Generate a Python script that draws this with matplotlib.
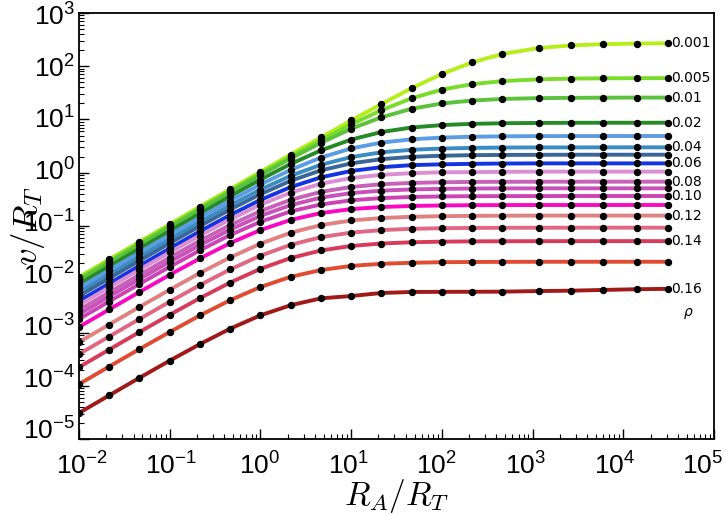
import numpy as np
import matplotlib
matplotlib.use("Agg")
import matplotlib.pyplot as plt
from matplotlib.ticker import FixedLocator, LogLocator, NullFormatter, FuncFormatter
from matplotlib.transforms import ScaledTranslation

# R_A / R_T at the dots
ratio = [0.01, 0.0215, 0.0464, 0.1, 0.215, 0.464, 1.0, 2.15, 4.64, 10,
         21.5, 46.4, 100, 215, 464, 1170, 2650, 6000, 14200, 31000]

# v / R_T for every rho
v_0p001 = [0.0110, 0.0236, 0.0505, 0.108, 0.231, 0.492, 1.04, 2.20, 4.60, 9.60,
           19.4, 38.7, 71.6, 118, 170, 220, 246, 260, 267, 270]
v_0p005 = [0.0104, 0.0223, 0.0478, 0.102, 0.218, 0.463, 0.97, 2.01, 4.10, 8.10,
           14.9, 25.0, 36.4, 46.1, 52.6, 56.8, 58.6, 59.4, 59.7, 59.9]
v_0p01 = [0.0096, 0.0206, 0.0443, 0.0950, 0.203, 0.432, 0.905, 1.85, 3.64, 6.70,
          11.0, 15.9, 20.0, 22.7, 24.3, 25.2, 25.5, 25.7, 25.8, 25.8]
v_0p02 = [0.00812, 0.0175, 0.0376, 0.0806, 0.171, 0.362, 0.744, 1.46, 2.63, 4.20,
          5.81, 7.07, 7.86, 8.29, 8.50, 8.62, 8.67, 8.69, 8.69, 8.70]
v_0p03 = [0.00685, 0.0147, 0.0316, 0.0677, 0.143, 0.299, 0.602, 1.13, 1.93, 2.86,
          3.68, 4.25, 4.57, 4.74, 4.83, 4.87, 4.89, 4.89, 4.90, 4.90]
v_0p04 = [0.00575, 0.0123, 0.0265, 0.0565, 0.119, 0.245, 0.483, 0.876, 1.41, 1.97,
          2.42, 2.70, 2.85, 2.93, 2.97, 2.99, 2.99, 3.00, 3.00, 3.00]
v_0p05 = [0.00483, 0.0104, 0.0223, 0.0474, 0.0994, 0.204, 0.396, 0.705, 1.11, 1.50,
          1.80, 1.99, 2.09, 2.14, 2.16, 2.17, 2.18, 2.18, 2.18, 2.18]
v_0p06 = [0.00389, 0.00833, 0.0179, 0.0380, 0.0793, 0.161, 0.309, 0.538, 0.820, 1.08,
          1.27, 1.39, 1.44, 1.47, 1.49, 1.50, 1.50, 1.50, 1.50, 1.50]
v_0p07 = [0.00328, 0.00703, 0.0151, 0.0319, 0.0663, 0.133, 0.251, 0.423, 0.622, 0.796,
          0.914, 0.983, 1.02, 1.03, 1.04, 1.05, 1.05, 1.05, 1.05, 1.05]
v_0p08 = [0.00265, 0.00566, 0.0121, 0.0256, 0.0527, 0.104, 0.191, 0.310, 0.438, 0.541,
          0.608, 0.644, 0.663, 0.672, 0.676, 0.679, 0.679, 0.680, 0.680, 0.680]
v_0p09 = [0.00221, 0.00472, 0.0101, 0.0213, 0.0436, 0.0856, 0.155, 0.246, 0.341, 0.415,
          0.461, 0.486, 0.499, 0.505, 0.508, 0.509, 0.510, 0.510, 0.510, 0.510]
v_0p10 = [0.00179, 0.00382, 0.00814, 0.0171, 0.0349, 0.0678, 0.120, 0.188, 0.254, 0.304,
          0.334, 0.351, 0.359, 0.363, 0.364, 0.365, 0.366, 0.366, 0.366, 0.366]
v_0p11 = [0.00127, 0.00271, 0.00576, 0.0121, 0.0246, 0.0477, 0.0841, 0.130, 0.175, 0.208,
          0.227, 0.238, 0.243, 0.246, 0.247, 0.248, 0.248, 0.248, 0.248, 0.248]
v_0p12 = [0.00066, 0.00141, 0.00302, 0.00636, 0.0131, 0.0257, 0.0466, 0.0747, 0.104, 0.127,
          0.141, 0.149, 0.153, 0.155, 0.156, 0.157, 0.157, 0.157, 0.157, 0.157]
v_0p13 = [0.000392, 0.00084, 0.00179, 0.00378, 0.00777, 0.0153, 0.0277, 0.0443, 0.0617, 0.0752,
          0.0838, 0.0885, 0.0909, 0.0920, 0.0925, 0.0928, 0.0929, 0.0930, 0.0930, 0.0930]
v_0p14 = [0.000223, 0.000478, 0.00102, 0.00215, 0.00441, 0.00867, 0.0157, 0.0250, 0.0347, 0.0422,
          0.0469, 0.0495, 0.0508, 0.0514, 0.0517, 0.0519, 0.0520, 0.0520, 0.0520, 0.0520]
v_0p15 = [0.000107, 0.000229, 0.000488, 0.00102, 0.00209, 0.00404, 0.00715, 0.0111, 0.0149, 0.0178,
          0.0195, 0.0204, 0.0209, 0.0211, 0.0212, 0.0213, 0.0213, 0.0213, 0.0213, 0.0213]
v_0p16 = [3.08e-5, 6.59e-5, 0.000141, 0.000296, 0.000604, 0.00118, 0.0021, 0.00325, 0.00438, 0.00484,
          0.00552, 0.00577, 0.00580, 0.00582, 0.00585, 0.0060, 0.0061, 0.0063, 0.0065, 0.0066]

curves = [v_0p001, v_0p005, v_0p01, v_0p02, v_0p03, v_0p04, v_0p05, v_0p06, v_0p07,
          v_0p08, v_0p09, v_0p10, v_0p11, v_0p12, v_0p13, v_0p14, v_0p15, v_0p16]
labels = ["0.001", "0.005", "0.01", "0.02", "", "0.04", "", "0.06", "",
          "0.08", "", "0.10", "", "0.12", "", "0.14", "", "0.16"]
colors = ["#b6ee1c", "#7adc2a", "#5cc23c", "#268a26", "#5c9ce4", "#3a8cc2", "#3a6698",
          "#1434e4", "#dc8ed2", "#c862b8", "#c852ba", "#cc44b4", "#fa08c2", "#e08282",
          "#e06882", "#d63c5a", "#e04c32", "#a01a18"]

x_decades = [1e-2, 1e-1, 1e0, 1e1, 1e2, 1e3, 1e4, 1e5]
y_decades = [1e-5, 1e-4, 1e-3, 1e-2, 1e-1, 1e0, 1e1, 1e2, 1e3]

fig = plt.figure(figsize=(7.26, 5.14), dpi=100)
ax = fig.add_axes([79 / 726, 75 / 514, 635 / 726, 426 / 514])

for vals, col, lab in zip(curves, colors, labels):
    ax.plot(ratio, vals, color=col, lw=2.8, solid_capstyle="butt", zorder=2)
    ax.plot(ratio, vals, "o", color="black", ms=4.3, zorder=3)
    if lab:
        ax.annotate(lab, (ratio[-1], vals[-1]), xytext=(2.5, 0), textcoords="offset points",
                    ha="left", va="center", fontsize=10, annotation_clip=False)

ax.annotate(r"$\rho$", (ratio[-1], v_0p16[-1]), xytext=(15, -18), textcoords="offset points",
            ha="center", va="center", fontsize=10, math_fontfamily="dejavusans",
            annotation_clip=False)

ax.set_xscale("log")
ax.set_yscale("log")
ax.set_xlim(1e-2, 1e5)
ax.set_ylim(1e-5, 1e3)

dec_fmt = FuncFormatter(lambda v, pos: r"$\mathregular{10^{%d}}$" % round(np.log10(v)))
ax.xaxis.set_major_locator(FixedLocator(x_decades))
ax.yaxis.set_major_locator(FixedLocator(y_decades))
ax.xaxis.set_major_formatter(dec_fmt)
ax.yaxis.set_major_formatter(dec_fmt)
ax.xaxis.set_minor_locator(LogLocator(base=10, subs=range(2, 10), numticks=20))
ax.yaxis.set_minor_locator(LogLocator(base=10, subs=range(2, 10), numticks=20))
ax.xaxis.set_minor_formatter(NullFormatter())
ax.yaxis.set_minor_formatter(NullFormatter())

ax.tick_params(which="both", direction="in", top=False, right=False,
               labelfontfamily="Liberation Sans", labelsize=19)
ax.tick_params(which="major", length=7, width=1)
ax.tick_params(which="minor", length=3.5, width=0.8)
ax.tick_params(axis="x", pad=10)
ax.tick_params(axis="y", pad=3)
for sp in ax.spines.values():
    sp.set_linewidth(1.3)

ax.set_xlabel(r"$R_A/R_T$", fontsize=24, math_fontfamily="cm")
ax.set_ylabel(r"$v/R_T$", fontsize=25, math_fontfamily="cm")
ax.xaxis.set_label_coords(0.5, -0.09)
ax.yaxis.set_label_coords(-0.05, 0.50)

# the original's decade labels sit slightly inside the ends of each axis
for i, tick in enumerate(ax.xaxis.get_major_ticks()):
    shift = ScaledTranslation((3 - 2 * i) / 100, 0, fig.dpi_scale_trans)
    tick.label1.set_transform(tick.label1.get_transform() + shift)
for i, tick in enumerate(ax.yaxis.get_major_ticks()):
    shift = ScaledTranslation(0, (10 - 1.4 * i) / 100, fig.dpi_scale_trans)
    tick.label1.set_transform(tick.label1.get_transform() + shift)

fig.savefig("out.png", dpi=100)
